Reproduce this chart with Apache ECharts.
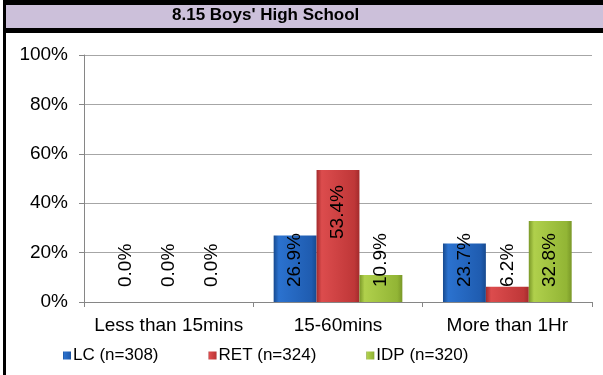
<!DOCTYPE html>
<html>
<head>
<meta charset="utf-8">
<script src="https://cdn.jsdelivr.net/npm/echarts@6/dist/echarts.min.js"></script>
<style>
  html, body { margin: 0; padding: 0; background: #fff; }
  #chart { width: 603px; height: 375px; }
</style>
</head>
<body>
<div id="chart"></div>
<script>
// chart data
var titleText = "8.15 Boys' High School";
var categories = ["Less than 15mins", "15-60mins", "More than 1Hr"];
var seriesNames = ["LC (n=308)", "RET (n=324)", "IDP (n=320)"];
var lcValues = [0.0, 26.9, 23.7];
var retValues = [0.0, 53.4, 6.2];
var idpValues = [0.0, 10.9, 32.8];
var yTicks = [0, 20, 40, 60, 80, 100];

// bevel-ish colours (edge, middle, inner)
var barColors = [
  ["#174a8f", "#2b72cf", "#1f5cb0"],
  ["#a32b2c", "#dc4c4d", "#bf3738"],
  ["#7a9828", "#b0d04c", "#92b535"]
];

function bevel(c) {
  return {
    type: "linear", x: 0, y: 0, x2: 1, y2: 0,
    colorStops: [
      { offset: 0, color: c[0] },
      { offset: 0.12, color: c[1] },
      { offset: 0.88, color: c[2] },
      { offset: 1, color: c[0] }
    ]
  };
}

// tall bars get the label at the top inside, others sit near the base
function makeData(vals) {
  return vals.map(function (v) {
    if (v > 45) {
      return { value: v, label: { position: "insideTop", align: "right", distance: 15 } };
    }
    return v;
  });
}

var chart = echarts.init(document.getElementById("chart"));
var allVals = [lcValues, retValues, idpValues];
var font = "Liberation Sans, Arial, sans-serif";

var option = {
  animation: false,
  textStyle: { fontFamily: font },
  graphic: [
    { type: "rect", left: 3, top: 0, shape: { width: 600, height: 33 }, style: { fill: "#000" } },
    { type: "rect", left: 6, top: 5, shape: { width: 597, height: 23 }, style: { fill: "#ccc0da" } },
    { type: "rect", left: 3, top: 0, shape: { width: 3, height: 375 }, style: { fill: "#000" } },
    {
      type: "text", left: 172, top: 7,
      style: { text: titleText, font: "bold 17px " + font, fill: "#000" }
    }
  ],
  grid: { left: 84, right: 11, top: 55, bottom: 73 },
  legend: {
    bottom: 6,
    left: 58,
    itemWidth: 8,
    itemHeight: 8,
    itemGap: 50,
    icon: "rect",
    textStyle: { fontSize: 17, color: "#000", padding: [0, 0, 0, -3] },
    data: seriesNames
  },
  xAxis: {
    type: "category",
    data: categories,
    axisLine: { lineStyle: { color: "#868686" } },
    axisTick: { show: true, length: 5, lineStyle: { color: "#868686" } },
    axisLabel: { color: "#000", fontSize: 19, margin: 14, interval: 0 }
  },
  yAxis: {
    type: "value",
    min: 0,
    max: 100,
    interval: 20,
    axisLine: { show: true, lineStyle: { color: "#868686" } },
    axisTick: { show: true, length: 5, lineStyle: { color: "#868686" } },
    splitLine: { lineStyle: { color: "#a6a6a6" } },
    axisLabel: {
      color: "#000", fontSize: 19, margin: 16,
      formatter: function (v) { return yTicks.indexOf(v) >= 0 ? v + "%" : ""; }
    }
  },
  series: seriesNames.map(function (name, i) {
    return {
      name: name,
      type: "bar",
      barGap: "0%",
      barCategoryGap: "24%",
      data: makeData(allVals[i]),
      itemStyle: { color: bevel(barColors[i]) },
      label: {
        show: true,
        rotate: 90,
        position: "insideBottom",
        align: "left",
        verticalAlign: "middle",
        distance: 15,
        color: "#000",
        fontSize: 19,
        formatter: function (p) { return p.value.toFixed(1) + "%"; }
      }
    };
  })
};

chart.setOption(option);
</script>
</body>
</html>
